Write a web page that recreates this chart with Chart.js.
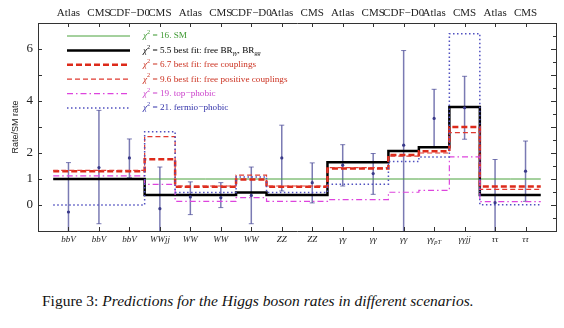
<!DOCTYPE html>
<html><head><meta charset="utf-8">
<script src="https://cdn.jsdelivr.net/npm/chart.js@4/dist/chart.umd.min.js"></script>
<style>
html,body{margin:0;padding:0;background:#fff;width:564px;height:328px;overflow:hidden}
#wrap{position:absolute;left:0;top:0;width:564px;height:250px}
#cap{position:absolute;left:42px;top:292px;font-family:'Liberation Serif',serif;font-size:15.5px;line-height:18px;white-space:nowrap;color:#111}
</style></head><body>
<div id="wrap"><canvas id="c" width="564" height="250"></canvas></div>
<div id="cap">Figure 3: <i>Predictions for the Higgs boson rates in different scenarios.</i></div>
<script>
// ---- data ----
const experiments = ['Atlas','CMS','CDF\u2212D0','CMS','Atlas','CMS','CDF\u2212D0','Atlas','CMS','Atlas','CMS','CDF\u2212D0','Atlas','CMS','Atlas','CMS'];
const channels = ['bbV','bbV','bbV','WWjj','WW','WW','WW','ZZ','ZZ','γγ','γγ','γγ','γγ_pT','γγjj','ττ','ττ'];
const yTickLabels = [0,1,2,4,6];

const smRate        = [1,1,1,1,1,1,1,1,1,1,1,1,1,1,1,1];
const bestFitBR     = [1,1,1,0.38,0.38,0.38,0.48,0.38,0.38,1.64,1.64,2.08,2.22,3.77,0.38,0.38];
const freeCouplings = [1.30,1.30,1.30,1.76,0.70,0.70,0.98,0.70,0.70,1.40,1.40,1.92,2.07,3.00,0.71,0.71];
const freePositive  = [1.33,1.33,1.33,2.63,0.73,0.73,1.15,0.73,0.73,1.44,1.44,1.88,2.00,2.78,0.60,0.60];
const topPhobic     = [1.12,1.12,1.12,0.79,0.14,0.14,0.28,0.14,0.14,0.21,0.21,0.49,0.56,1.85,0.13,0.13];
const fermioPhobic  = [0,0,0,2.82,0.48,0.48,1.08,0.48,0.48,0.80,0.80,1.67,1.85,6.59,0.01,0.01];

const obsCenter = [-0.27,1.44,1.81,-0.14,0.31,0.28,0.37,1.81,0.86,1.53,1.21,2.30,3.33,3.74,0.09,1.30];
const obsLow    = [-2.17,-0.72,1.05,-1.74,-0.37,-0.10,-0.72,0.54,0.08,0.73,0.41,-1.34,2.21,2.53,-1.57,0.14];
const obsHigh   = [1.63,3.64,2.54,1.46,0.89,0.86,1.46,3.07,1.62,2.32,1.98,5.94,4.45,4.95,1.75,2.46];

const legendText = [
  [{t:'χ',it:1},{t:'2',sup:1},{t:' = 16. SM'}],
  [{t:'χ',it:1},{t:'2',sup:1},{t:' = 5.5 best fit: free BR'},{t:'γγ',sub:1,it:1},{t:', BR'},{t:'gg',sub:1,it:1}],
  [{t:'χ',it:1},{t:'2',sup:1},{t:' = 6.7 best fit: free couplings'}],
  [{t:'χ',it:1},{t:'2',sup:1},{t:' = 9.6 best fit: free positive couplings'}],
  [{t:'χ',it:1},{t:'2',sup:1},{t:' = 19. top\u2212phobic'}],
  [{t:'χ',it:1},{t:'2',sup:1},{t:' = 21. fermio\u2212phobic'}]
];
const yTitle = 'Rate/SM rate';

// ---- helpers ----
function steps(vals){
  const pts = vals.map((v,i)=>({x:i-0.5,y:v}));
  pts.push({x:vals.length-0.5,y:vals[vals.length-1]});
  return pts;
}
const SERIF = "'Liberation Serif', serif";
function drawRich(ctx, segs, x, y, size){
  let cx = x;
  for (const s of segs){
    const fs = (s.sup||s.sub) ? size*0.68 : size;
    ctx.font = (s.it?'italic ':'') + fs + 'px ' + SERIF;
    const dy = s.sup ? -size*0.38 : s.sub ? size*0.3 : 0;
    ctx.fillText(s.t, cx, y+dy);
    cx += ctx.measureText(s.t).width;
  }
}

const styles = [
  {label:'SM', data:smRate, color:'#4aa23c', width:1, dash:[] , text:'#3f9a33'},
  {label:'best fit BR', data:bestFitBR, color:'#000000', width:2.5, dash:[], text:'#000'},
  {label:'free couplings', data:freeCouplings, color:'#dd2a1a', width:2.5, dash:[6,3], text:'#cc3322'},
  {label:'free positive couplings', data:freePositive, color:'#e03a30', width:1.2, dash:[5,3], text:'#cc3322'},
  {label:'top-phobic', data:topPhobic, color:'#dd44dd', width:1.2, dash:[6,3,1.5,3], text:'#cc44cc'},
  {label:'fermio-phobic', data:fermioPhobic, color:'#5050c0', width:1.5, dash:[1.5,2.5], text:'#3333aa'}
];

const datasets = [{
  type:'scatter', label:'obs', data: obsCenter.map((v,i)=>({x:i,y:v})),
  pointRadius:1.6, pointBackgroundColor:'#3a3a8a', pointBorderWidth:0, showLine:false, order:0
}];
styles.forEach((s,k)=>datasets.push({
  type:'line', label:s.label, data:steps(s.data), borderColor:s.color, borderWidth:s.width,
  borderDash:s.dash, stepped:'before', pointRadius:0, fill:false, tension:0, order:6-k,
  borderCapStyle:'butt'
}));

const errPlugin = {
  id:'errbars',
  beforeDatasetsDraw(chart){
    const ctx = chart.ctx, xs = chart.scales.x, ys = chart.scales.y, a = chart.chartArea;
    ctx.save();
    ctx.beginPath(); ctx.rect(a.left,a.top,a.right-a.left,a.bottom-a.top); ctx.clip();
    ctx.strokeStyle = 'rgba(70,70,150,0.72)'; ctx.lineWidth = 1.5;
    obsCenter.forEach((c,i)=>{
      const x = xs.getPixelForValue(i);
      const y1 = ys.getPixelForValue(obsLow[i]), y2 = ys.getPixelForValue(obsHigh[i]);
      ctx.beginPath(); ctx.moveTo(x,y1); ctx.lineTo(x,y2); ctx.stroke();
      ctx.beginPath(); ctx.moveTo(x-2.5,y1); ctx.lineTo(x+2.5,y1); ctx.moveTo(x-2.5,y2); ctx.lineTo(x+2.5,y2);
      ctx.lineWidth = 1; ctx.stroke(); ctx.lineWidth = 1.5;
    });
    ctx.restore();
  }
};

const decoPlugin = {
  id:'deco',
  afterDraw(chart){
    const ctx = chart.ctx, xs = chart.scales.x, ys = chart.scales.y, a = chart.chartArea;
    ctx.save();
    // inward ticks
    ctx.strokeStyle = '#333'; ctx.lineWidth = 1;
    ctx.beginPath();
    channels.forEach((c,i)=>{
      const x = Math.round(xs.getPixelForValue(i))+0.5;
      ctx.moveTo(x,a.top); ctx.lineTo(x,a.top+4);
      ctx.moveTo(x,a.bottom); ctx.lineTo(x,a.bottom-4);
    });
    for (let v=-1; v<=7; v+=0.5){
      const y = Math.round(ys.getPixelForValue(v))+0.5;
      const major = Number.isInteger(v);
      if (major){ ctx.moveTo(a.left,y); ctx.lineTo(a.left+4,y); }
      ctx.moveTo(a.right,y); ctx.lineTo(a.right-(major?5:3),y);
    }
    ctx.stroke();
    // bottom channel labels
    ctx.fillStyle = '#222'; ctx.textBaseline = 'middle';
    channels.forEach((c,i)=>{
      const parts = c.split('_');
      ctx.font = 'italic 9px ' + SERIF;
      const w0 = ctx.measureText(parts[0]).width;
      let w1 = 0;
      if (parts[1]){ ctx.font = 'italic 6.5px ' + SERIF; w1 = ctx.measureText(parts[1]).width; }
      const x0 = xs.getPixelForValue(i) - (w0+w1)/2, y = a.bottom + 9;
      ctx.textAlign = 'left';
      ctx.font = 'italic 9px ' + SERIF; ctx.fillText(parts[0], x0, y);
      if (parts[1]){ ctx.font = 'italic 6.5px ' + SERIF; ctx.fillText(parts[1], x0+w0, y+2.5); }
    });
    // y title
    ctx.save();
    ctx.translate(16, 127);
    ctx.rotate(-Math.PI/2);
    ctx.textAlign = 'center'; ctx.font = "9px 'Liberation Sans', sans-serif"; ctx.fillStyle = '#222';
    ctx.fillText(yTitle, 0, 0);
    ctx.restore();
    // legend
    const lx0 = a.left + 29, lx1 = a.left + 92, tx = a.left + 105;
    styles.forEach((s,k)=>{
      const y = a.top + 13 + k*14.4;
      ctx.beginPath(); ctx.setLineDash(s.dash); ctx.strokeStyle = s.color; ctx.lineWidth = s.width;
      ctx.moveTo(lx0, y); ctx.lineTo(lx1, y); ctx.stroke();
      ctx.setLineDash([]);
      ctx.fillStyle = s.text; ctx.textAlign = 'left'; ctx.textBaseline = 'middle';
      drawRich(ctx, legendText[k], tx, y, 9.2);
    });
    ctx.restore();
  }
};

new Chart(document.getElementById('c'), {
  type:'line',
  data:{datasets},
  plugins:[errPlugin, decoPlugin],
  options:{
    responsive:false, animation:false, devicePixelRatio:1,
    layout:{padding:0},
    plugins:{legend:{display:false}, tooltip:{enabled:false}},
    scales:{
      x:{type:'linear', position:'bottom', min:-1, max:16,
         grid:{display:false, drawTicks:false}, border:{display:true, color:'#333', width:1},
         ticks:{display:false},
         afterFit(s){ s.height = 19; }},
      xTop:{type:'linear', position:'top', min:-1, max:16,
         grid:{display:false, drawTicks:false, tickLength:0}, border:{display:true, color:'#333', width:1},
         afterBuildTicks(s){ s.ticks = experiments.map((e,i)=>({value:i})); },
         ticks:{autoSkip:false, maxRotation:0, padding:3, color:'#222',
                font:{family:"'Liberation Serif', serif", size:11},
                callback:(v)=>experiments[v] ?? ''},
         afterFit(s){ s.height = 23; }},
      y:{type:'linear', position:'left', min:-1, max:7,
         grid:{display:false, drawTicks:false, tickLength:0}, border:{display:true, color:'#333', width:1},
         afterBuildTicks(s){ s.ticks = [-1,0,1,2,3,4,5,6,7].map(v=>({value:v})); },
         ticks:{padding:5, color:'#222', font:{family:"'Liberation Serif', serif", size:13},
                callback:(v)=> yTickLabels.includes(v) ? String(v) : ''},
         afterFit(s){ s.width = 38; }},
      yRight:{type:'linear', position:'right', min:-1, max:7,
         grid:{display:false, drawTicks:false}, border:{display:true, color:'#333', width:1},
         ticks:{display:false},
         afterFit(s){ s.width = 8; }}
    }
  }
});
</script>
</body></html>
